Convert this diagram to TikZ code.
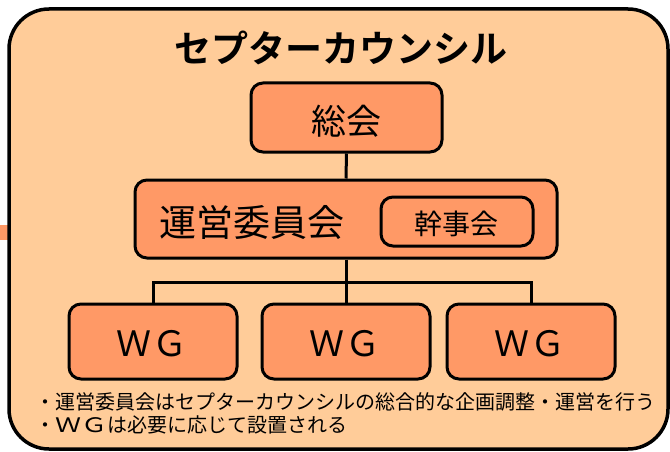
\documentclass[tikz,border=0pt]{standalone}
\usepackage{fontspec}
\usepackage{graphicx}
\newfontfamily\jp{Noto Sans CJK JP}
\newfontfamily\jpb{Noto Sans CJK JP Bold}
\definecolor{peach}{HTML}{FFCC99}
\definecolor{boxor}{HTML}{FF9966}
\begin{document}
\begin{tikzpicture}[x=1pt,y=-1pt,
  orgbox/.style={draw=black, line width=3pt, fill=boxor, rounded corners=12pt, inner sep=0pt},
  conn/.style={draw=black, line width=3pt},
  lbl/.style={inner sep=0pt, font=\jp}
]
\useasboundingbox (0,0) rectangle (670,452);
% left stub
\fill[boxor] (0,225) rectangle (12,240);
% outer frame
\draw[line width=3.5pt, fill=peach, rounded corners=40pt] (9,9) rectangle (668,449);
% title
\node[inner sep=0pt, font=\jpb\fontsize{37}{40}\selectfont] (title) at (341,48) {セプターカウンシル};
% boxes
\node[orgbox, minimum width=191pt, minimum height=69pt] (soukai) at (346.5,117.5) {};
\node[lbl, font=\jp\fontsize{35}{38}\selectfont] (soukait) at (346.5,121) {総会};
\node[orgbox, minimum width=422pt, minimum height=78pt] (unei) at (346,219) {};
\node[lbl, font=\jp\fontsize{37}{40}\selectfont] (ueit) at (252,222) {運営委員会};
\node[orgbox, minimum width=152pt, minimum height=49pt] (kanji) at (457,221.5) {};
\node[lbl, font=\jp\fontsize{28}{30}\selectfont] (kanjit) at (456,224) {幹事会};
\node[orgbox, minimum width=168pt, minimum height=75pt] (wg1) at (153,341.5) {};
\node[orgbox, minimum width=168pt, minimum height=75pt] (wg2) at (346,341.5) {};
\node[orgbox, minimum width=168pt, minimum height=75pt] (wg3) at (531,341.5) {};
\node[lbl, font=\jp\fontsize{35}{38}\selectfont] (wg1t) at (152,344) {Ｗ\kern2ptＧ};
\node[lbl, font=\jp\fontsize{35}{38}\selectfont] (wg2t) at (345,344) {Ｗ\kern2ptＧ};
\node[lbl, font=\jp\fontsize{35}{38}\selectfont] (wg3t) at (530,344) {Ｗ\kern2ptＧ};
% connectors
\coordinate (bar) at (346,282);
\draw[conn] (soukai.south) -- (unei.north);
\draw[conn] (unei.south) -- (wg2.north);
\draw[conn] (wg1.north) |- (bar) -| (wg3.north);
% notes
\node[lbl, anchor=west, font=\jp\fontsize{20}{22}\selectfont] (note1) at (35,401.5) {・運営委員会はセプターカウンシルの総合的な企画調整・運営を行う};
\node[lbl, anchor=west, font=\jp\fontsize{20}{22}\selectfont] (note2) at (35,425) {・\scalebox{1.3}[1]{Ｗ}\scalebox{1.3}[1]{Ｇ}は必要に応じて設置される};
\end{tikzpicture}
\end{document}
